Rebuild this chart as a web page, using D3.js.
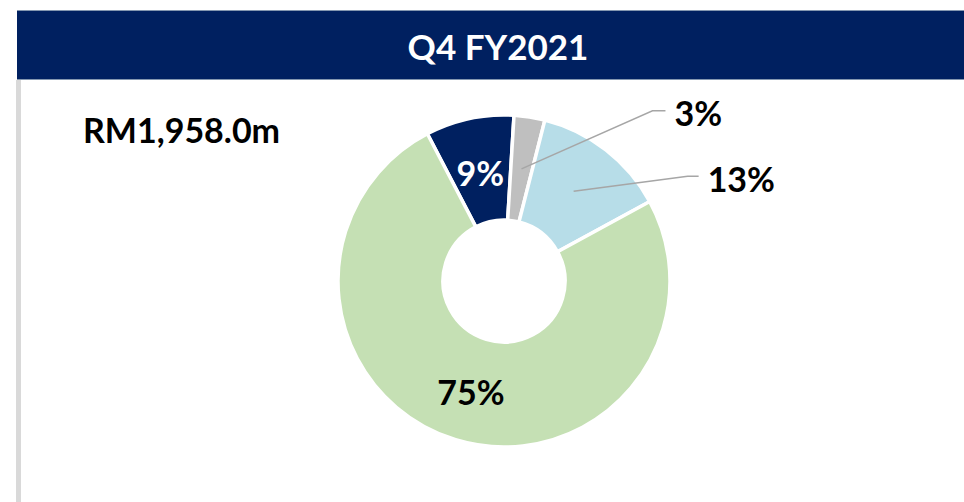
<!DOCTYPE html>
<html>
<head>
<meta charset="utf-8">
<script src="https://cdn.jsdelivr.net/npm/d3@7"></script>
<style>
  body { margin: 0; background: #fff; }
  text { font-family: Lato, "Open Sans", sans-serif; font-weight: bold; }
</style>
</head>
<body>
<div id="chart"></div>
<script>
// data
const title = "Q4 FY2021";
const totalLabel = "RM1,958.0m";
const segments = ["Segment A", "Segment B", "Segment C", "Segment D"];
const shares = [8.6, 3.0, 13.1, 75.3];   // percent of total
const colors = ["#002060", "#bfbfbf", "#b7dde8", "#c5e0b4"];

const width = 964, height = 502;
const cx = 504, cy = 281;
const outerR = 166, innerR = 61;
const startDeg = -27.5;

// callout layout for the small slices (offsets from slice centroid to elbow)
const callouts = {
  1: {dx: 131, dy: -58, run: 13},
  2: {dx: 114, dy: -15, run: 11}
};

let svg = d3.select("#chart")
  .append("svg")
    .attr("width", width)
    .attr("height", height);

// header band
svg.append("rect")
  .attr("x", 17).attr("y", 10)
  .attr("width", width - 17).attr("height", 70)
  .attr("fill", "#002060");
svg.append("line")
  .attr("x1", 17).attr("x2", width).attr("y1", 10.5).attr("y2", 10.5)
  .attr("stroke", "#8497b0").attr("stroke-width", 1);
svg.append("line")
  .attr("x1", 17).attr("x2", width).attr("y1", 79.5).attr("y2", 79.5)
  .attr("stroke", "#8497b0").attr("stroke-width", 1);

svg.append("text")
  .text(title)
  .attr("x", 498)
  .attr("y", 60)
  .attr("text-anchor", "middle")
  .attr("font-size", "35px")
  .attr("fill", "#fff");

// grey left rule
svg.append("rect")
  .attr("x", 16).attr("y", 80)
  .attr("width", 5).attr("height", height - 80)
  .attr("fill", "#d9d9d9");

svg.append("text")
  .text(totalLabel)
  .attr("x", 83)
  .attr("y", 143)
  .attr("font-size", "34px")
  .attr("fill", "#000");

// donut
let pie = d3.pie()
  .sort(null)
  .value(d => d)
  .startAngle(startDeg * Math.PI / 180)
  .endAngle(startDeg * Math.PI / 180 + 2 * Math.PI);

let arc = d3.arc().innerRadius(innerR).outerRadius(outerR);
let arcs = pie(shares);
let fmt = d => d3.format(".0%")(d / 100);

let g = svg.append("g").attr("transform", "translate(" + cx + "," + cy + ")");

g.selectAll("path")
  .data(arcs)
  .enter()
  .append("path")
    .attr("d", arc)
    .attr("fill", (d, i) => colors[i])
    .attr("stroke", "#fff")
    .attr("stroke-width", 3.5)
    .attr("stroke-linejoin", "miter");

// labels
arcs.forEach(function(d, i){
  let c = arc.centroid(d);
  let co = callouts[i];
  if (!co) {
    g.append("text")
      .text(fmt(shares[i]))
      .attr("x", c[0])
      .attr("y", c[1] + 2)
      .attr("text-anchor", "middle")
      .attr("dominant-baseline", "central")
      .attr("font-size", "34px")
      .attr("fill", i == 0 ? "#fff" : "#000");
  } else {
    let ex = c[0] + co.dx, ey = c[1] + co.dy;
    g.append("polyline")
      .attr("points", [c, [ex, ey], [ex + co.run, ey]].map(p => p.join(",")).join(" "))
      .attr("fill", "none")
      .attr("stroke", "#a6a6a6")
      .attr("stroke-width", 1.5);
    g.append("text")
      .text(fmt(shares[i]))
      .attr("x", ex + co.run + 9)
      .attr("y", ey + 2)
      .attr("dominant-baseline", "central")
      .attr("font-size", "34px")
      .attr("fill", "#000");
  }
});
</script>
</body>
</html>
